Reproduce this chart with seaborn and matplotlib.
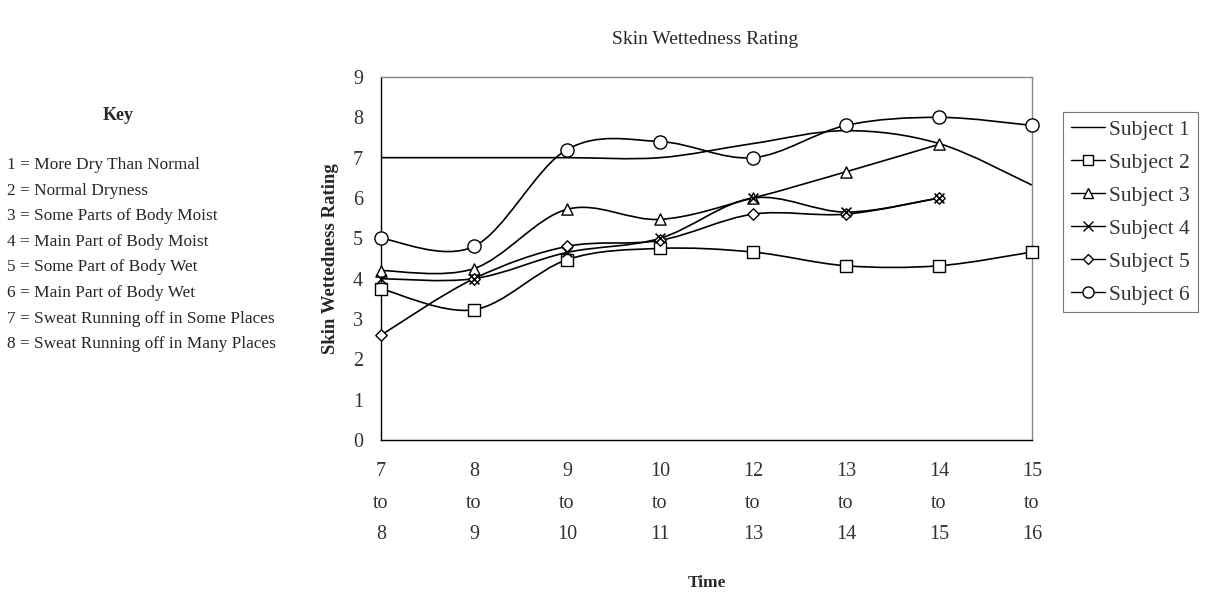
import numpy as np
import pandas as pd
import matplotlib
matplotlib.use("Agg")
import matplotlib.pyplot as plt
from matplotlib.path import Path
from matplotlib.patches import PathPatch
from matplotlib.lines import Line2D
import seaborn as sns

# Time periods (hour ranges) and skin wettedness ratings per subject
periods = ["7\nto\n8", "8\nto\n9", "9\nto\n10", "10\nto\n11",
           "12\nto\n13", "13\nto\n14", "14\nto\n15", "15\nto\n16"]
subject_1 = [7.0, 7.0, 7.0, 7.0, 7.35, 7.67, 7.35, 6.32]
subject_2 = [3.75, 3.23, 4.47, 4.75, 4.66, 4.32, 4.32, 4.66]
subject_3 = [4.2, 4.25, 5.72, 5.47, 6.0, 6.65, 7.33, np.nan]
subject_4 = [4.0, 4.0, 4.65, 5.0, 6.0, 5.65, 6.0, np.nan]
subject_5 = [2.6, 4.0, 4.8, 4.95, 5.6, 5.6, 6.0, np.nan]
subject_6 = [5.0, 4.8, 7.2, 7.4, 7.0, 7.8, 8.0, 7.8]

names = ["Subject 1", "Subject 2", "Subject 3", "Subject 4", "Subject 5", "Subject 6"]
series = [subject_1, subject_2, subject_3, subject_4, subject_5, subject_6]
markers = [None, "s", "^", "x", "D", "o"]
msizes = [0, 70, 65, 50, 34, 90]

key_lines = [
    "1 = More Dry Than Normal",
    "2 = Normal Dryness",
    "3 = Some Parts of Body Moist",
    "4 = Main Part of Body Moist",
    "5 = Some Part of Body Wet",
    "6 = Main Part of Body Wet",
    "7 = Sweat Running off in Some Places",
    "8 = Sweat Running off in Many Places",
]

sns.set_style("white")
plt.rcParams["font.family"] = ["Liberation Serif", "DejaVu Serif"]

fig = plt.figure(figsize=(12.08, 5.96), dpi=100)
ax = fig.add_axes([381 / 1208, 1 - 440 / 596, 651 / 1208, 363 / 596])

x = np.arange(len(periods))


def smooth_path(xs, ys):
    """Smoothed line: cubic Bezier segments passing through every point."""
    pts = np.column_stack([xs, ys])
    n = len(pts)
    verts = [pts[0]]
    codes = [Path.MOVETO]
    for i in range(n - 1):
        p0 = pts[i - 1] if i > 0 else pts[i]
        p1 = pts[i]
        p2 = pts[i + 1]
        p3 = pts[i + 2] if i + 2 < n else pts[i + 1]
        c1 = p1 + (p2 - p0) / 6.0
        c2 = p2 - (p3 - p1) / 6.0
        verts += [c1, c2, p2]
        codes += [Path.CURVE4] * 3
    return Path(verts, codes)


for name, vals in zip(names, series):
    vals = np.asarray(vals, dtype=float)
    ok = ~np.isnan(vals)
    ax.add_patch(PathPatch(smooth_path(x[ok], vals[ok]), facecolor="none",
                           edgecolor="black", lw=1.2, zorder=2))

for name, vals, m, ms in zip(names, series, markers, msizes):
    if m is None:
        continue
    df = pd.DataFrame({"t": x, "v": vals}).dropna()
    if m == "x":
        sns.scatterplot(data=df, x="t", y="v", marker="x", s=ms, color="black",
                        linewidth=1.2, ax=ax, zorder=4, clip_on=False)
    else:
        sns.scatterplot(data=df, x="t", y="v", marker=m, s=ms, facecolor="white",
                        edgecolor="black", linewidth=1.0, ax=ax, zorder=3,
                        clip_on=False)

ax.set_xlim(0, len(periods) - 1)
ax.set_ylim(0, 9)
ax.set_xticks(x)
ax.set_xticklabels(periods, fontsize=14.5, linespacing=1.9, color="#333333")
ax.set_yticks(range(10))
ax.set_yticklabels([str(i) for i in range(10)], fontsize=14.5, color="#333333")
ax.tick_params(axis="both", direction="inout", length=10, width=0.8, color="#555555")
ax.tick_params(axis="x", pad=11)
ax.tick_params(axis="y", pad=8)
ax.set_xlabel("Time", fontsize=12.5, fontweight="bold", labelpad=22)
ax.set_ylabel("Skin Wettedness Rating", fontsize=13.5, fontweight="bold", labelpad=10)

for side in ["left", "bottom"]:
    ax.spines[side].set_color("black")
    ax.spines[side].set_linewidth(1.0)
for side in ["top", "right"]:
    ax.spines[side].set_color("#888888")
    ax.spines[side].set_linestyle((0, (1, 1)))
    ax.spines[side].set_linewidth(1.0)

fig.text(705 / 1208, 1 - 40 / 596, "Skin Wettedness Rating", ha="center", va="center",
         fontsize=14)

# Rating scale key
fig.text(118 / 1208, 1 - 115 / 596, "Key", ha="center", va="center", fontsize=13,
         fontweight="bold")
for i, line in enumerate(key_lines):
    fig.text(7 / 1208, 1 - (165 + i * 25.6) / 596, line, ha="left", va="center",
             fontsize=12.4)

handles = []
for name, m in zip(names, markers):
    if m is None:
        handles.append(Line2D([], [], color="black", lw=1.0))
    elif m == "x":
        handles.append(Line2D([], [], color="black", lw=1.0, marker="x", markersize=7))
    else:
        handles.append(Line2D([], [], color="black", lw=1.0, marker=m,
                              markersize={"s": 7, "^": 7, "D": 5, "o": 8}[m],
                              markerfacecolor="white", markeredgecolor="black"))

leg = fig.legend(handles, names, loc="upper left",
                 bbox_to_anchor=(1063 / 1208, 1 - 112 / 596), fontsize=15.5,
                 frameon=True, fancybox=False, handlelength=1.6, handletextpad=0.2,
                 labelspacing=0.6, borderpad=0.35, borderaxespad=0)
leg.get_frame().set_edgecolor("#555555")
leg.get_frame().set_linewidth(0.8)
for t in leg.get_texts():
    t.set_color("#333333")

fig.savefig("out.png", dpi=100, facecolor="white")
